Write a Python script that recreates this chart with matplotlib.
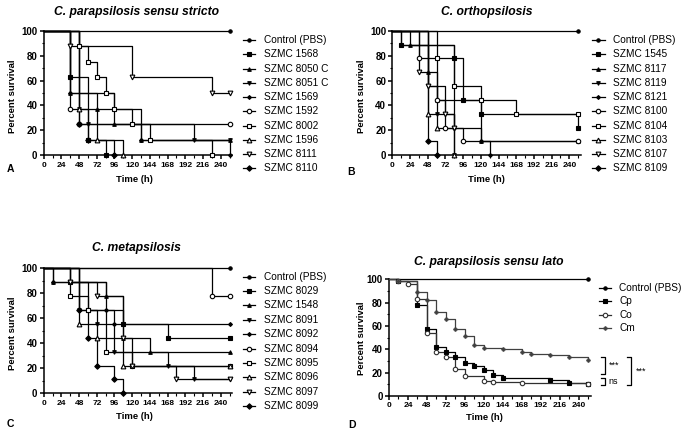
import matplotlib
matplotlib.use("Agg")
import matplotlib.pyplot as plt
from matplotlib.lines import Line2D
from matplotlib.ticker import MultipleLocator

plt.rcParams['font.family'] = ['Liberation Sans', 'DejaVu Sans']

W, H = 683, 437

# ---------------- DATA ----------------
A_title = "C. parapsilosis sensu stricto"
A_labels = ["Control (PBS)", "SZMC 1568", "SZMC 8050 C", "SZMC 8051 C", "SZMC 1569",
            "SZMC 1592", "SZMC 8002", "SZMC 1596", "SZMC 8111", "SZMC 8110"]
A_t = [[0, 252],
       [0, 36, 60, 84],
       [0, 36, 72, 96, 132, 252],
       [0, 48, 60, 204, 252],
       [0, 36, 96, 132, 252],
       [0, 36, 48, 252],
       [0, 48, 60, 72, 84, 96, 120, 144, 228],
       [0, 48, 72, 108],
       [0, 36, 120, 228, 252],
       [0, 48, 60, 96]]
A_s = [[100, 100],
       [100, 62.5, 12.5, 0],
       [100, 50, 37.5, 25, 12.5, 12.5],
       [100, 37.5, 25, 12.5, 12.5],
       [100, 50, 37.5, 12.5, 0],
       [100, 37.5, 25, 25],
       [100, 87.5, 75, 62.5, 50, 37.5, 25, 12.5, 0],
       [100, 37.5, 12.5, 0],
       [100, 87.5, 62.5, 50, 50],
       [100, 25, 12.5, 0]]

B_title = "C. orthopsilosis"
B_labels = ["Control (PBS)", "SZMC 1545", "SZMC 8117", "SZMC 8119", "SZMC 8121",
            "SZMC 8100", "SZMC 8104", "SZMC 8103", "SZMC 8107", "SZMC 8109"]
B_t = [[0, 252],
       [0, 12, 84, 96, 120, 252],
       [0, 24, 48, 60, 120, 252],
       [0, 48, 60, 84],
       [0, 12, 84, 120, 132],
       [0, 36, 60, 72, 96, 252],
       [0, 60, 84, 120, 168, 252],
       [0, 48, 60, 84],
       [0, 36, 48, 72, 84],
       [0, 48, 60]]
B_s = [[100, 100],
       [100, 88.9, 77.8, 44.4, 33.3, 22.2],
       [100, 88.9, 66.7, 44.4, 11.1, 11.1],
       [100, 55.6, 33.3, 0],
       [100, 88.9, 22.2, 11.1, 0],
       [100, 77.8, 44.4, 22.2, 11.1, 11.1],
       [100, 77.8, 55.6, 44.4, 33.3, 33.3],
       [100, 33.3, 22.2, 0],
       [100, 66.7, 55.6, 33.3, 22.2],
       [100, 11.1, 0]]

C_title = "C. metapsilosis"
C_labels = ["Control (PBS)", "SZMC 8029", "SZMC 1548", "SZMC 8091", "SZMC 8092",
            "SZMC 8094", "SZMC 8095", "SZMC 8096", "SZMC 8097", "SZMC 8099"]
C_t = [[0, 252],
       [0, 36, 60, 108, 168, 252],
       [0, 12, 84, 108, 144, 252],
       [0, 48, 72, 96, 168, 204, 252],
       [0, 12, 84, 96, 252],
       [0, 228, 252],
       [0, 36, 60, 84, 120, 252],
       [0, 48, 72, 108, 252],
       [0, 36, 72, 108, 120, 180, 252],
       [0, 48, 60, 72, 96, 108]]
C_s = [[100, 100],
       [100, 88.9, 66.7, 55.6, 44.4, 44.4],
       [100, 88.9, 77.8, 44.4, 33.3, 33.3],
       [100, 66.7, 55.6, 33.3, 22.2, 11.1, 11.1],
       [100, 88.9, 66.7, 55.6, 55.6],
       [100, 77.8, 77.8],
       [100, 77.8, 66.7, 33.3, 22.2, 22.2],
       [100, 55.6, 44.4, 22.2, 22.2],
       [100, 88.9, 77.8, 44.4, 22.2, 11.1, 11.1],
       [100, 66.7, 44.4, 22.2, 11.1, 0]]

D_title = "C. parapsilosis sensu lato"
D_labels = ["Control (PBS)", "Cp", "Co", "Cm"]
D_t = [[0, 252],
       [0, 12, 36, 48, 60, 72, 84, 96, 108, 120, 132, 144, 204, 228, 252],
       [0, 12, 24, 36, 48, 60, 72, 84, 96, 120, 132, 168, 252],
       [0, 12, 36, 48, 60, 72, 84, 96, 108, 120, 144, 168, 180, 204, 228, 252]]
D_s = [[100, 100],
       [100, 98.6, 78, 57, 42, 38, 33, 28, 26, 22, 18, 15, 14, 11, 10],
       [100, 98.6, 96, 83, 54, 38, 33, 23, 17, 13, 12, 11, 10],
       [100, 98.6, 89, 82, 72, 66, 57, 51, 44, 41, 40, 38, 36, 35, 33, 31]]
D_sig = ["***", "ns", "***"]

xticks = [0, 24, 48, 72, 96, 120, 144, 168, 192, 216, 240]
yticks = [0, 20, 40, 60, 80, 100]

# ---------------- STYLE ----------------
STYLES10 = [('o', True, 2.4), ('s', True, 3.0), ('^', True, 2.6), ('v', True, 2.6),
            ('D', True, 2.0), ('o', False, 3.2), ('s', False, 3.2), ('^', False, 3.4),
            ('v', False, 3.4), ('D', True, 2.8)]
STYLES4 = [('o', True, 2.4), ('s', True, 3.0), ('o', False, 3.2), ('P', True, 2.4)]
COL10 = ['black'] * 10
COL4 = ['black', 'black', '#303030', '#404040']

fig = plt.figure(figsize=(W / 100, H / 100), dpi=100)


def fx(x):
    return x / W


def fy(y):
    return 1 - y / H


def make_axes(left, right, top, bottom):
    ax = fig.add_axes([fx(left), fy(bottom), (right - left) / W, (bottom - top) / H])
    ax.set_xlim(0, 256)
    ax.set_ylim(0, 100)
    for s in ['top', 'right']:
        ax.spines[s].set_visible(False)
    for s in ['left', 'bottom']:
        ax.spines[s].set_linewidth(1.1)
    ax.set_xticks(xticks)
    ax.set_yticks(yticks)
    ax.xaxis.set_minor_locator(MultipleLocator(12))
    ax.yaxis.set_minor_locator(MultipleLocator(10))
    ax.tick_params(which='major', length=3, width=1.1, pad=1.5)
    ax.tick_params(which='minor', length=1.8, width=0.8)
    for lab in ax.get_xticklabels():
        lab.set_fontsize(6.0)
        lab.set_fontweight('bold')
    for lab in ax.get_yticklabels():
        lab.set_fontsize(7.0)
        lab.set_fontweight('bold')
    ax.set_facecolor('none')
    return ax


def draw_km(ax, ts, ss, styles, cols):
    for i, (t, s) in enumerate(zip(ts, ss)):
        m, filled, ms = styles[i]
        c = cols[i]
        ax.step(t, s, where='post', color=c, lw=0.9, clip_on=False, zorder=3)
        mt, ms_ = (t[-1:], s[-1:]) if i == 0 else (t[1:], s[1:])
        ax.plot(mt, ms_, linestyle='none', marker=m, markersize=ms,
                markerfacecolor=c if filled else 'white', markeredgecolor=c,
                markeredgewidth=0.8, clip_on=False, zorder=4)


def draw_legend(labels, styles, cols, xl0, xl1, xt, y0, dy):
    for i, lab in enumerate(labels):
        y = y0 + i * dy
        m, filled, ms = styles[i]
        c = cols[i]
        fig.add_artist(Line2D([fx(xl0), fx(xl1)], [fy(y), fy(y)], color=c, lw=0.9,
                              transform=fig.transFigure))
        fig.add_artist(Line2D([fx((xl0 + xl1) / 2)], [fy(y)], marker=m, markersize=ms,
                              markerfacecolor=c if filled else 'white', markeredgecolor=c,
                              markeredgewidth=0.8, transform=fig.transFigure))
        fig.text(fx(xt), fy(y), lab, fontsize=7.3, va='center', ha='left', color='black')


def decorate(title, tx, ty, ylx, yly, xlx, xly, letter, lx, ly):
    fig.text(fx(tx), fy(ty), title, fontsize=8.7, fontweight='bold', fontstyle='italic',
             ha='center', va='center')
    fig.text(fx(ylx), fy(yly), "Percent survival", fontsize=6.8, fontweight='bold',
             rotation=90, ha='center', va='center')
    fig.text(fx(xlx), fy(xly), "Time (h)", fontsize=6.8, fontweight='bold',
             ha='center', va='center')
    fig.text(fx(lx), fy(ly), letter, fontsize=7.5, fontweight='bold', ha='center', va='center')


# Panel A
axA = make_axes(43.7, 232.5, 30.7, 155.3)
draw_km(axA, A_t, A_s, STYLES10, COL10)
draw_legend(A_labels, STYLES10, COL10, 242.7, 255, 264.3, 40, 14.26)
decorate(A_title, 136.7, 12.3, 13, 96.7, 134.3, 179.3, "A", 10, 169)

# Panel B
axB = make_axes(392.3, 581.1, 30.7, 155.3)
draw_km(axB, B_t, B_s, STYLES10, COL10)
draw_legend(B_labels, STYLES10, COL10, 591.7, 605, 613.3, 40, 14.26)
decorate(B_title, 486.7, 12.3, 362, 96.7, 486.7, 179.3, "B", 351, 172)

# Panel C
axC = make_axes(43.7, 232.5, 268.3, 393.3)
draw_km(axC, C_t, C_s, STYLES10, COL10)
draw_legend(C_labels, STYLES10, COL10, 242.7, 255, 264.3, 276.7, 14.37)
decorate(C_title, 136, 248.3, 13, 333.3, 134, 416.7, "C", 10, 424)

# Panel D
axD = make_axes(389, 591.3, 279.3, 396)
draw_km(axD, D_t, D_s, STYLES4, COL4)
draw_legend(D_labels, STYLES4, COL4, 599.3, 610.7, 619.3, 287.7, 13.5)
decorate(D_title, 488.3, 262.3, 362, 338.3, 484, 417.7, "D", 352, 425)


def bracket(x_px, y0_px, y1_px, text, tx_px):
    xa = fx(x_px)
    fig.add_artist(Line2D([fx(x_px - 4), xa, xa, fx(x_px - 4)],
                          [fy(y0_px), fy(y0_px), fy(y1_px), fy(y1_px)],
                          color='black', lw=0.9, transform=fig.transFigure))
    fig.text(fx(tx_px), fy((y0_px + y1_px) / 2), text, fontsize=6.5, ha='left',
             va='center')


bracket(605, 356.7, 374.3, D_sig[0], 608.5)
bracket(605, 377.7, 385, D_sig[1], 608.5)
bracket(631, 356.7, 385, D_sig[2], 636)

fig.savefig("out.png", dpi=100)
